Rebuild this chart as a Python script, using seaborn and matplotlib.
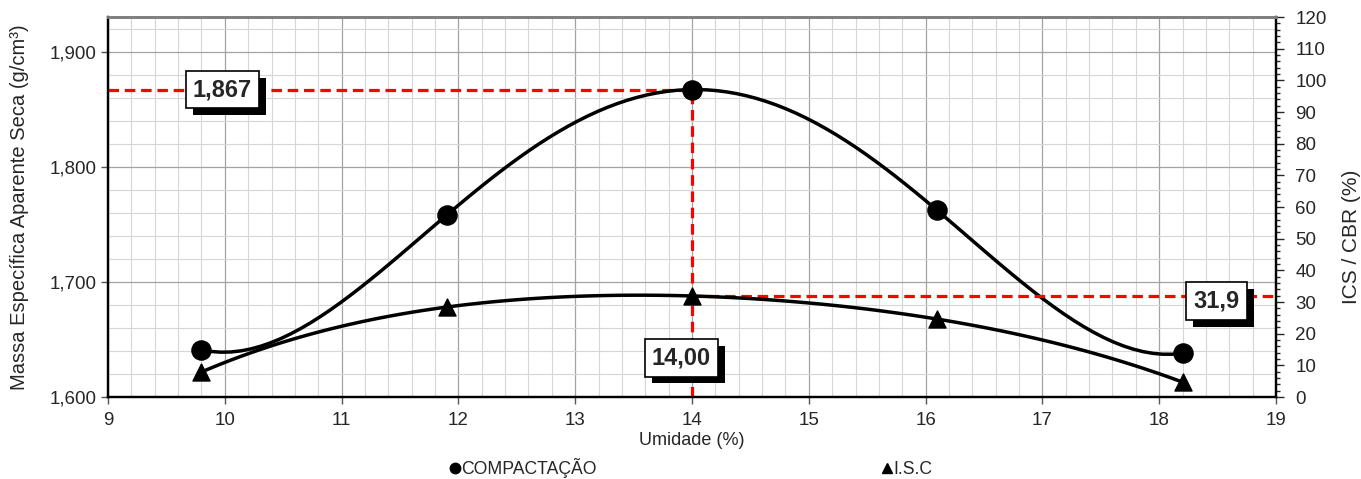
import numpy as np
import pandas as pd
import matplotlib
matplotlib.use("Agg")
import matplotlib.pyplot as plt
from matplotlib.ticker import FuncFormatter, MultipleLocator
from matplotlib.lines import Line2D
import matplotlib.patheffects as pe
import seaborn as sns

# Compaction test results
umidade = [9.8, 11.9, 14.0, 16.1, 18.2]
massa_especifica = [1.641, 1.758, 1.867, 1.762, 1.638]
isc = [7.9, 28.4, 31.9, 24.6, 4.7]

umidade_otima = 14.0
massa_maxima = 1.867
isc_otimo = 31.9

sns.set_style("white")
plt.rcParams["font.family"] = ["Liberation Sans", "DejaVu Sans"]

fig = plt.figure(figsize=(13.61, 4.79), dpi=100)
ax = fig.add_axes([108 / 1361, 1 - 397 / 479, (1276 - 108) / 1361, (397 - 17) / 479])
ax2 = ax.twinx()

# fourth-order polynomial trend curves through the test points
sns.regplot(x=umidade, y=massa_especifica, order=4, ci=None, ax=ax, marker="o",
            scatter_kws=dict(s=190, color="black", alpha=1, zorder=5),
            line_kws=dict(color="black", lw=2.5, zorder=4))
sns.regplot(x=umidade, y=isc, order=4, ci=None, ax=ax2, marker="^",
            scatter_kws=dict(s=150, color="black", alpha=1, zorder=5),
            line_kws=dict(color="black", lw=2.5, zorder=4))

ax.set_xlim(9, 19)
ax.set_ylim(1.6, 1.93)
ax2.set_ylim(0, 120)

# grid
ax.xaxis.set_major_locator(MultipleLocator(1))
ax.xaxis.set_minor_locator(MultipleLocator(0.2))
ax.yaxis.set_major_locator(MultipleLocator(0.1))
ax.yaxis.set_minor_locator(MultipleLocator(0.02))
ax.grid(which="minor", color="#d6d6d6", lw=0.8)
ax.grid(which="major", color="#a3a3a3", lw=0.9)
ax.set_axisbelow(True)

ax2.yaxis.set_major_locator(MultipleLocator(10))
ax2.yaxis.set_minor_locator(MultipleLocator(2))
ax2.grid(False)

ax.yaxis.set_major_formatter(FuncFormatter(lambda v, p: f"{v:.3f}".replace(".", ",")))
ax.xaxis.set_major_formatter(FuncFormatter(lambda v, p: f"{v:.0f}"))
ax2.yaxis.set_major_formatter(FuncFormatter(lambda v, p: f"{v:.0f}"))

ax.tick_params(axis="both", which="major", labelsize=13.5, direction="out", length=5, width=1, color="#555555")
ax.tick_params(axis="both", which="minor", length=0)
ax.tick_params(axis="x", which="major", pad=6)
ax.yaxis.set_ticks_position("left")
ax.xaxis.set_ticks_position("bottom")
ax2.tick_params(axis="y", which="major", labelsize=13.5, direction="out", length=6, width=1, pad=8)
ax2.tick_params(axis="y", which="minor", direction="out", length=3, width=1)

for a in (ax, ax2):
    for s in ["left", "bottom", "right"]:
        a.spines[s].set_color("black")
        a.spines[s].set_linewidth(1.6)
    a.spines["top"].set_color("#808080")
    a.spines["top"].set_linewidth(2)

ax.set_xlabel("Umidade (%)", fontsize=13, labelpad=2)
ax.set_ylabel("Massa Específica Aparente Seca (g/cm³)", fontsize=14.5)
ax2.set_ylabel("ICS / CBR (%)", fontsize=15)
ax.yaxis.set_label_coords(-79 / 1168, 0.5)
ax2.yaxis.set_label_coords(1 + 66 / 1168, (397 - 237) / 380)

# optimum reference lines
red = dict(color="#ff0000", lw=2.3, ls=(0, (3.3, 1.8)), zorder=3)
ax.plot([9, umidade_otima], [massa_maxima, massa_maxima], **red)
ax.plot([umidade_otima, umidade_otima], [1.6, massa_maxima], **red)
ax2.plot([umidade_otima, 19], [isc_otimo, isc_otimo], **red)

box = dict(boxstyle="square,pad=0.3", fc="white", ec="black", lw=1.2)
shadow = [pe.SimplePatchShadow(offset=(5, -5), shadow_rgbFace="black", alpha=1), pe.Normal()]


def label(axis, x, y, txt):
    t = axis.text(x, y, txt, fontsize=17, fontweight="bold", ha="center", va="center",
                  bbox=box, zorder=10)
    t.get_bbox_patch().set_path_effects(shadow)


label(ax, 9.98, massa_maxima, f"{massa_maxima:.3f}".replace(".", ","))
label(ax, umidade_otima - 0.09, 1.6 + (397 - 358) / 1150, f"{umidade_otima:.2f}".replace(".", ","))
label(ax2, 18.49, isc_otimo - 1.6, f"{isc_otimo:.1f}".replace(".", ","))

handles = [
    Line2D([], [], marker="o", color="black", ls="none", markersize=7.5),
    Line2D([], [], marker="^", color="black", ls="none", markersize=7),
]
fig.legend(handles, ["COMPACTAÇÃO", "I.S.C"], loc="center", ncol=2,
           bbox_to_anchor=(0.508, 1 - 468 / 479), frameon=False, fontsize=12.7,
           handlelength=0.5, handletextpad=0.1, columnspacing=16.2)

fig.savefig("out.png", dpi=100)
